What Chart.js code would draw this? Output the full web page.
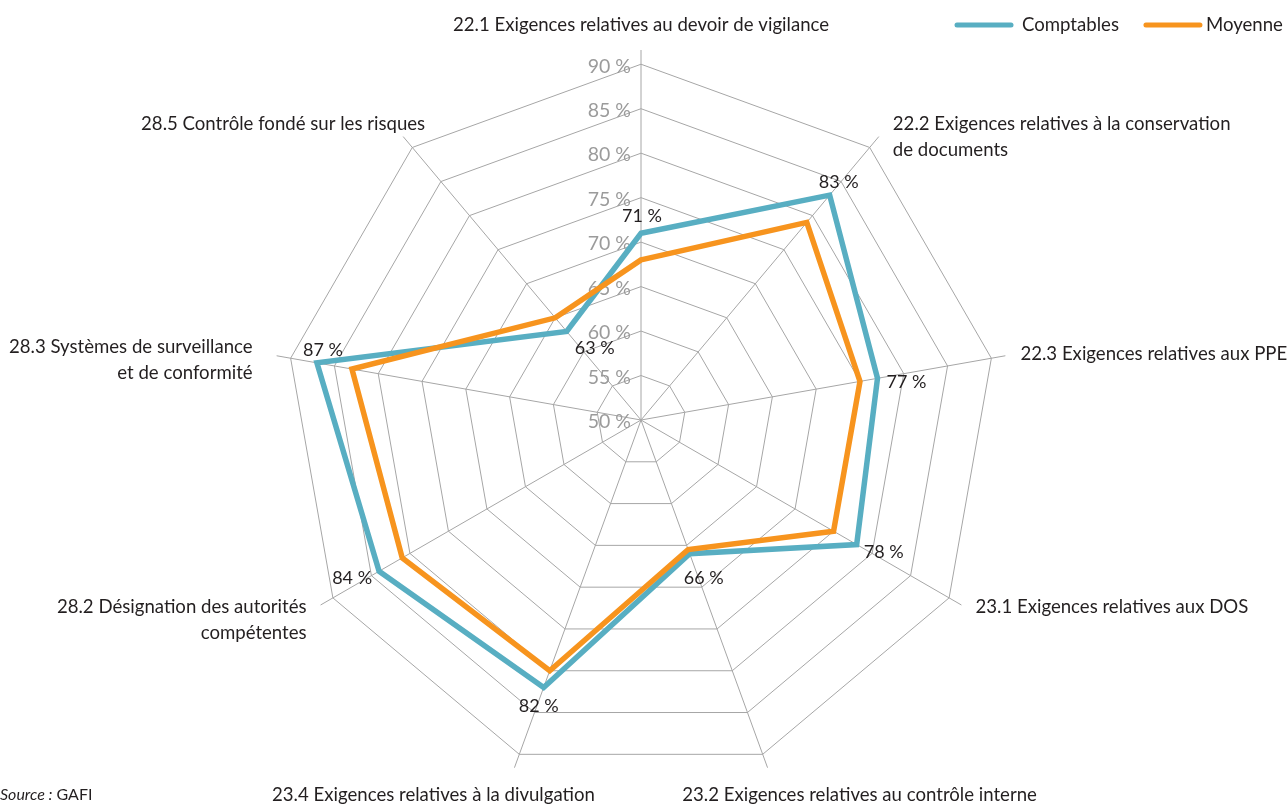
<!DOCTYPE html>
<html lang="fr">
<head>
<meta charset="utf-8">
<title>Conformité technique – comptables</title>
<script src="https://cdn.jsdelivr.net/npm/chart.js@4.4.1/dist/chart.umd.min.js"></script>
<style>
  html, body { margin: 0; padding: 0; background: #fff; }
  #wrap { position: relative; width: 1288px; height: 804px; }
</style>
</head>
<body>
<div id="wrap"><canvas id="radar"></canvas></div>
<script>
  // categories (one entry per axis, split into display lines)
  const categories = [
    ["22.1 Exigences relatives au devoir de vigilance"],
    ["22.2 Exigences relatives à la conservation", "de documents"],
    ["22.3 Exigences relatives aux PPE"],
    ["23.1 Exigences relatives aux DOS"],
    ["23.2 Exigences relatives au contrôle interne"],
    ["23.4 Exigences relatives à la divulgation"],
    ["28.2 Désignation des autorités", "compétentes"],
    ["28.3 Systèmes de surveillance", "et de conformité"],
    ["28.5 Contrôle fondé sur les risques"]
  ];
  const comptables = [71, 83, 77, 78, 66, 82, 84, 87, 63];
  const moyenne = [68, 79, 75, 75, 65.5, 80, 81, 83, 65];
  const tickValues = [50, 55, 60, 65, 70, 75, 80, 85, 90];

  const TEAL = "#58aec2";
  const ORANGE = "#f7941e";
  const GRID = "#a6a6a6";
  const FONT = "Lato, 'Open Sans', sans-serif";

  // where each axis title sits, relative to the end of its spoke
  const catPlacement = [
    { align: "center", dx: 0, dy: -25 },
    { align: "left", dx: 14, dy: 0 },
    { align: "left", dx: 15, dy: -2 },
    { align: "left", dx: 14, dy: 2 },
    { align: "center", dx: 92, dy: 27 },
    { align: "center", dx: -81, dy: 27 },
    { align: "right", dx: -14, dy: 15 },
    { align: "right", dx: -24, dy: 4 },
    { align: "right", dx: 22, dy: -13 }
  ];
  // value label offsets from the Comptables points
  const valueOffsets = [
    [1, -17], [9, -13], [29, 4], [27, 8], [14, 24],
    [-5, 19], [-27, 7], [6, -13], [28, 17]
  ];

  const lastTick = tickValues[tickValues.length - 1];
  const scaleMax = 91.6; // spokes run a little past the outer ring

  const radarDecor = {
    id: "radarDecor",
    beforeDatasetsDraw(chart) {
      const ctx = chart.ctx;
      const r = chart.scales.r;
      ctx.save();
      ctx.font = "19.5px " + FONT;
      ctx.fillStyle = "#9b9b9b";
      ctx.textAlign = "right";
      ctx.textBaseline = "middle";
      tickValues.forEach((v) => {
        const d = r.getDistanceFromCenterForValue(v);
        ctx.fillText(v + " %", r.xCenter - 10, r.yCenter - d + 2);
      });
      ctx.restore();
    },
    afterDatasetsDraw(chart) {
      const ctx = chart.ctx;
      const r = chart.scales.r;
      ctx.save();
      ctx.font = "18px " + FONT;
      ctx.fillStyle = "#231f20";
      ctx.textAlign = "center";
      ctx.textBaseline = "middle";
      comptables.forEach((v, i) => {
        const p = r.getPointPositionForValue(i, v);
        const off = valueOffsets[i];
        ctx.fillText(v + " %", p.x + off[0], p.y + off[1]);
      });

      // axis titles
      ctx.font = "18.6px " + FONT;
      const lh = 26;
      categories.forEach((lines, i) => {
        const end = r.getPointPosition(i, r.drawingArea);
        const pl = catPlacement[i];
        ctx.textAlign = pl.align;
        const y0 = end.y + pl.dy - ((lines.length - 1) * lh) / 2;
        lines.forEach((t, k) => ctx.fillText(t, end.x + pl.dx, y0 + k * lh));
      });

      // legend
      let x = 957;
      const ly = 25;
      const gaps = [11, 6];
      chart.data.datasets
        .slice()
        .sort((a, b) => a.legendPos - b.legendPos)
        .forEach((ds, k) => {
          ctx.strokeStyle = ds.borderColor;
          ctx.lineWidth = 5;
          ctx.lineCap = "round";
          ctx.beginPath();
          ctx.moveTo(x, ly);
          ctx.lineTo(x + 54, ly);
          ctx.stroke();
          x += 54 + gaps[k];
          ctx.textAlign = "left";
          ctx.fillText(ds.label, x, ly);
          x += ctx.measureText(ds.label).width + 27;
        });

      // source
      ctx.font = "italic 16px " + FONT;
      ctx.textAlign = "left";
      const src = "Source :";
      ctx.fillText(src, 0, 795);
      const w = ctx.measureText(src).width;
      ctx.font = "16px " + FONT;
      ctx.fillText("GAFI", w + 4, 795);
      ctx.restore();
    }
  };

  new Chart(document.getElementById("radar"), {
    type: "radar",
    data: {
      labels: categories,
      datasets: [
        {
          label: "Comptables",
          data: comptables,
          borderColor: TEAL,
          backgroundColor: "transparent",
          borderWidth: 5.5,
          pointRadius: 0,
          fill: false,
          order: 1,
          legendPos: 0
        },
        {
          label: "Moyenne",
          data: moyenne,
          borderColor: ORANGE,
          backgroundColor: "transparent",
          borderWidth: 5.5,
          pointRadius: 0,
          fill: false,
          order: 0,
          legendPos: 1
        }
      ]
    },
    options: {
      responsive: true,
      maintainAspectRatio: false,
      animation: false,
      layout: { padding: { top: 50, bottom: 14, left: 0, right: 6 } },
      plugins: {
        legend: { display: false },
        tooltip: { enabled: false }
      },
      elements: { line: { tension: 0, borderJoinStyle: "miter" } },
      scales: {
        r: {
          min: 50,
          max: scaleMax,
          beginAtZero: false,
          ticks: { display: false, stepSize: 5 },
          pointLabels: { display: false },
          angleLines: { color: GRID, lineWidth: 1 },
          grid: {
            lineWidth: 1,
            color: (c) => (c.tick && c.tick.value > lastTick ? "transparent" : GRID)
          }
        }
      }
    },
    plugins: [radarDecor]
  });
</script>
</body>
</html>
